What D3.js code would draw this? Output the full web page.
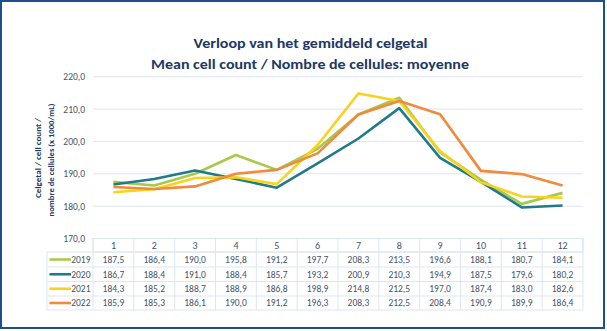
<!DOCTYPE html>
<html><head><meta charset="utf-8">
<script src="https://cdnjs.cloudflare.com/ajax/libs/d3/7.8.5/d3.min.js"></script>
<style>html,body{margin:0;padding:0;background:#fff;}svg{display:block;}</style>
</head><body>
<svg id="c" width="607" height="331"></svg>
<script>
const months = ["1","2","3","4","5","6","7","8","9","10","11","12"];
const years = ["2019","2020","2021","2022"];
const v2019 = [187.5,186.4,190.0,195.8,191.2,197.7,208.3,213.5,196.6,188.1,180.7,184.1];
const v2020 = [186.7,188.4,191.0,188.4,185.7,193.2,200.9,210.3,194.9,187.5,179.6,180.2];
const v2021 = [184.3,185.2,188.7,188.9,186.8,198.9,214.8,212.5,197.0,187.4,183.0,182.6];
const v2022 = [185.9,185.3,186.1,190.0,191.2,196.3,208.3,212.5,208.4,190.9,189.9,186.4];
const yTicks = [170,180,190,200,210,220];
const colors = ["#a8c94c","#1f7b8a","#f9d21c","#f08a3c"];
const series = [v2019,v2020,v2021,v2022];

const svg = d3.select("#c");
const navy = "#203864";
const txt = "#44546a";
const grid = "#dde6f3";
const fmt = v => v.toFixed(1).replace(".", ",");

svg.append("rect").attr("x",1).attr("y",1).attr("width",603).attr("height",327)
  .attr("fill","#fff").attr("stroke","#1f4e8c").attr("stroke-width",2);

const L = 93, R = 583, T = 76.7, B = 238.5;
const x = d3.scaleBand().domain(months).range([L,R]);
const y = d3.scaleLinear().domain([170,220]).range([B,T]);

// gridlines
svg.append("g").selectAll("line").data(yTicks.slice(1)).join("line")
  .attr("x1",L).attr("x2",R).attr("y1",d=>y(d)).attr("y2",d=>y(d))
  .attr("stroke",grid).attr("stroke-width",1);

// y axis labels
const yAxis = d3.axisLeft(y).tickValues(yTicks).tickFormat(fmt).tickSize(0).tickPadding(8);
const ga = svg.append("g").attr("transform",`translate(${L},0)`).call(yAxis);
ga.select(".domain").remove();
ga.selectAll("text").attr("fill",txt).style("font-family","Carlito, 'Liberation Sans', sans-serif").style("font-size","9.5px");

// titles
const title = svg.append("g").attr("fill",navy).style("font-family","Carlito, 'Open Sans', sans-serif").style("font-weight","bold");
title.append("text").attr("x",310.5).attr("y",47.5).attr("text-anchor","middle").style("font-size","14.5px")
  .attr("textLength",234).attr("lengthAdjust","spacingAndGlyphs").text("Verloop van het gemiddeld celgetal");
title.append("text").attr("x",310).attr("y",69).attr("text-anchor","middle").style("font-size","14.5px")
  .attr("textLength",318).attr("lengthAdjust","spacingAndGlyphs").text("Mean cell count / Nombre de cellules: moyenne");

// y title
const yt = svg.append("g").attr("transform","translate(0,0) rotate(-90)").attr("fill",navy)
  .style("font-family","Carlito, 'Open Sans', sans-serif").style("font-weight","bold").style("font-size","8.5px");
yt.append("text").attr("x",-158).attr("y",41).attr("text-anchor","middle").attr("textLength",80).attr("lengthAdjust","spacingAndGlyphs").text("Celgetal / cell count /");
yt.append("text").attr("x",-160).attr("y",54).attr("text-anchor","middle").attr("textLength",113).attr("lengthAdjust","spacingAndGlyphs").text("nombre de cellules (x 1000/mL)");

// lines
const line = d3.line().x((d,i)=>x(months[i])+x.bandwidth()/2).y(d=>y(d));
svg.append("g").selectAll("path").data(series).join("path")
  .attr("d",line).attr("fill","none").attr("stroke",(d,i)=>colors[i])
  .attr("stroke-width",2.6).attr("stroke-linejoin","round");

// data table
const rowH = [13.5,15,14.5,14.5,14];
const rowY = [B];
rowH.forEach((h,i)=>rowY.push(rowY[i]+h));
const tL = 47;
const tb = svg.append("g");
tb.append("rect").attr("x",L).attr("y",rowY[0]).attr("width",R-L).attr("height",rowH[0]).attr("fill","none").attr("stroke",grid);
for (let r=1;r<=5;r++){
  tb.append("line").attr("x1",tL).attr("x2",R).attr("y1",rowY[r]).attr("y2",rowY[r]).attr("stroke",grid);
}
tb.append("line").attr("x1",tL).attr("x2",tL).attr("y1",rowY[1]).attr("y2",rowY[5]).attr("stroke",grid);
tb.selectAll("line.v").data(months.concat(["end"])).join("line")
  .attr("x1",(d,i)=>L+i*x.bandwidth()).attr("x2",(d,i)=>L+i*x.bandwidth())
  .attr("y1",rowY[0]).attr("y2",rowY[5]).attr("stroke",grid);

const tf = "Carlito, 'Liberation Sans', sans-serif";
tb.selectAll("text.m").data(months).join("text")
  .attr("x",d=>x(d)+x.bandwidth()/2).attr("y",rowY[0]+rowH[0]/2+3.5)
  .attr("text-anchor","middle").attr("fill",txt).style("font-family",tf).style("font-size","10px").text(d=>d);

series.forEach((s,r)=>{
  const cy = rowY[r+1]+rowH[r+1]/2+3.3;
  tb.selectAll(null).data(s).join("text")
    .attr("x",(d,i)=>x(months[i])+x.bandwidth()/2).attr("y",cy)
    .attr("text-anchor","middle").attr("fill",txt).style("font-family",tf).style("font-size","9.5px").text(d=>fmt(d));
  tb.append("line").attr("x1",49.5).attr("x2",71).attr("y1",cy-3.3).attr("y2",cy-3.3)
    .attr("stroke",colors[r]).attr("stroke-width",2.6);
  tb.append("text").attr("x",90.5).attr("y",cy).attr("text-anchor","end").attr("fill",txt)
    .style("font-family",tf).style("font-size","9.5px").text(years[r]);
});
</script>
</body></html>
